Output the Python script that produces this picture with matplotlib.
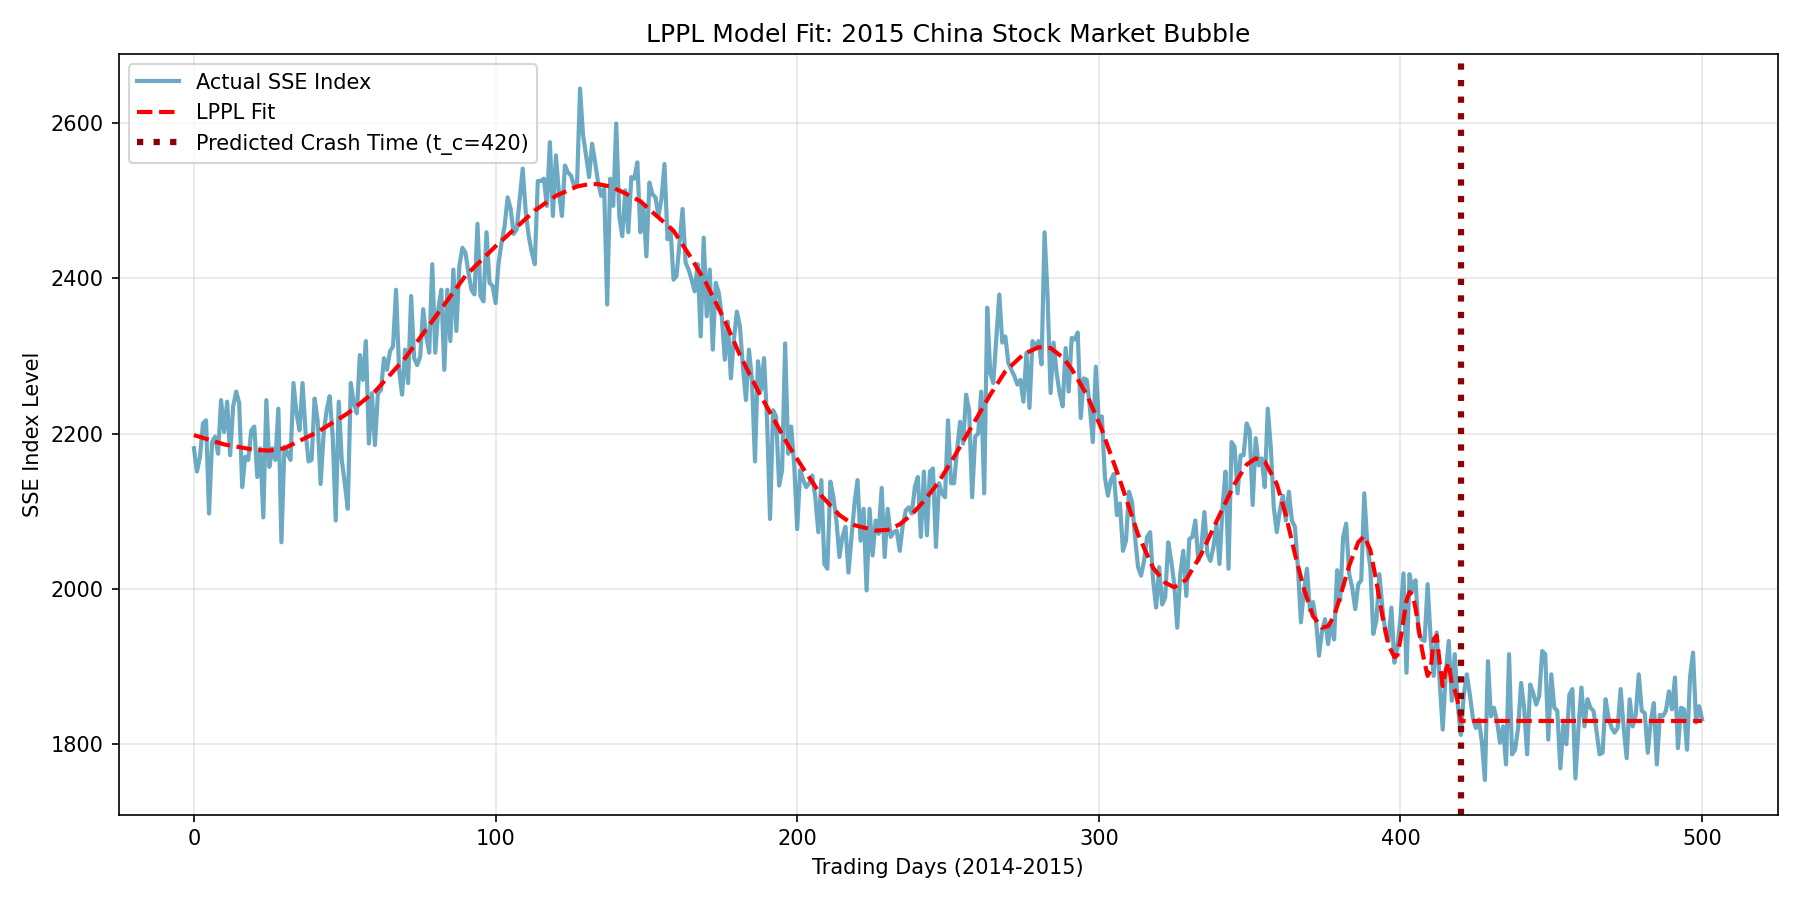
import numpy as np
import matplotlib
matplotlib.use("Agg")
import matplotlib.pyplot as plt

# Actual SSE index (daily, days 0..500)
sse_part1 = [2181,2151,2170,2213,2217,2097,2189,2196,2174,2243,
             2202,2241,2172,2235,2254,2239,2131,2170,2166,2204,
             2209,2144,2181,2092,2243,2157,2181,2166,2232,2060,
             2183,2174,2166,2265,2226,2204,2265,2202,2164,2166,
             2245,2217,2135,2200,2230,2248,2196,2088]
sse_part2 = [2241,2166,2136,2103,2265,2239,2226,2301,2269,2319,
             2187,2252,2185,2252,2256,2297,2282,2306,2312,2385,
             2282,2250,2308,2265,2377,2297,2288,2299,2360,2325,
             2304,2418,2304,2360,2385,2282,2385,2319,2411,2332,
             2416,2439,2433,2407,2385,2379,2470,2377,2370,2459]
sse_part3 = [2394,2390,2368,2420,2446,2467,2504,2489,2457,2463,
             2502,2541,2485,2454,2433,2418,2525,2525,2528,2493,
             2575,2480,2558,2510,2480,2545,2536,2532,2519,2519,
             2644,2584,2558,2530,2573,2549,2523,2506,2515,2366,
             2528,2493,2599,2480,2454,2513,2459,2530,2528,2549]
sse_part4 = [2459,2493,2428,2523,2508,2504,2480,2502,2547,2450,
             2463,2398,2403,2446,2489,2420,2411,2398,2383,2418,
             2325,2452,2351,2411,2308,2394,2381,2351,2295,2344,
             2271,2321,2357,2338,2286,2243,2308,2269,2164,2293,
             2256,2297,2217,2090,2230,2222,2133,2153,2316,2174]
sse_part5 = [2209,2160,2077,2153,2140,2131,2136,2146,2118,2073,
             2140,2032,2026,2138,2118,2088,2041,2067,2080,2021,
             2067,2110,2140,2062,2103,1998,2103,2043,2088,2071,
             2130,2041,2103,2067,2073,2075,2049,2082,2101,2105,
             2097,2131,2144,2067,2151,2069,2151,2155,2054,2136]
sse_part6 = [2123,2118,2217,2136,2136,2179,2215,2187,2250,2230,
             2118,2196,2200,2254,2123,2362,2278,2265,2321,2379,
             2317,2325,2291,2282,2274,2263,2269,2241,2304,2233,
             2319,2312,2319,2289,2459,2377,2252,2317,2278,2252,
             2235,2310,2254,2323,2321,2330,2220,2271,2269]
sse_part7 = [2235,2189,2286,2215,2222,2144,2120,2140,2148,2095,
             2110,2049,2062,2125,2112,2067,2028,2017,2036,2067,
             2073,2011,1976,2028,1980,1989,2060,2036,2006,1950,
             2019,2049,1991,2064,2067,2088,2036,2054,2099,2045,
             2036,2054,2084,2032,2105,2151,2026,2189,2183,2123,
             2172,2172]
sse_part8 = [2213,2204,2108,2194,2159,2168,2131,2232,2183,2105,
             2073,2101,2120,2088,2125,2088,2080,2028,1957,1998,
             2026,1972,1983,1959,1914,1946,1961,1929,1955,1935,
             2024,1985,2067,2084,2019,2002,1974,2006,2011,2123,
             2058,2028,1942,1959,2019,1976,1944,1933,1976]
sse_part9 = [1905,1925,1963,2020,1892,2019,1998,2011,1944,1935,
             1933,2006,1937,1888,1944,1881,1819,1890,1933,1856,
             1916,1851,1812,1864,1890,1864,1834,1821,1832,1802,
             1754,1907,1836,1847,1830,1802,1823,1774,1916,1787,
             1793,1821,1879,1847,1787,1877,1866,1851,1862,1920]
sse_part10 = [1916,1806,1890,1847,1843,1769,1825,1800,1864,1871,
              1756,1821,1873,1823,1858,1847,1843,1817,1787,1789,
              1858,1834,1821,1815,1821,1871,1821,1782,1858,1823,
              1838,1890,1843,1840,1789,1830,1853,1774,1838,1836,
              1843,1868,1845,1886,1795,1847,1845,1793,1886,1918,
              1828,1849,1832]

sse_values = (sse_part1 + sse_part2 + sse_part3 + sse_part4 + sse_part5 +
              sse_part6 + sse_part7 + sse_part8 + sse_part9 + sse_part10)
days = np.arange(len(sse_values))

# LPPL fit curve, read at selected days
fit_days = [0, 10, 20, 25, 30, 41, 51, 60, 70, 80, 90, 100, 113, 120, 127, 131,
            134, 138, 142, 148, 152, 159, 165, 170, 176, 181, 187, 192, 197, 202,
            208, 214, 219, 226, 230, 234, 238, 242, 247, 252, 258, 264, 269, 275,
            280, 284, 288, 291, 296, 301, 307, 313, 318, 322, 325, 329, 334, 340,
            345, 349, 352, 355, 359, 362, 365, 368, 371, 374, 376, 378, 380, 383,
            386, 388, 390, 392, 394, 396, 398, 399, 400, 401, 402, 403, 404, 405,
            406, 407, 408, 409, 410, 411, 412, 413, 414, 415, 416, 417, 418, 419,
            420, 500]
fit_values = [2198, 2186, 2179, 2178, 2181, 2202, 2226, 2254, 2297, 2350, 2403, 2441,
              2487, 2506, 2518, 2521, 2521, 2518, 2511, 2499, 2485, 2461, 2425, 2392,
              2345, 2301, 2255, 2220, 2185, 2155, 2120, 2095, 2082, 2075, 2076, 2083,
              2096, 2113, 2138, 2170, 2210, 2250, 2280, 2302, 2311, 2310, 2298, 2283,
              2250, 2205, 2140, 2070, 2027, 2008, 2002, 2012, 2045, 2095, 2135, 2160,
              2168, 2164, 2135, 2095, 2045, 2000, 1965, 1950, 1952, 1965, 1990, 2030,
              2060, 2068, 2050, 2010, 1965, 1928, 1912, 1915, 1935, 1960, 1985, 1996,
              1993, 1975, 1950, 1925, 1905, 1888, 1895, 1935, 1940, 1905, 1875, 1895,
              1905, 1878, 1870, 1855, 1830, 1830]

crash_time = 420

fig, ax = plt.subplots(figsize=(12, 6), dpi=150)
ax.plot(days, sse_values, color='#2E86AB', alpha=0.7, linewidth=2,
        label='Actual SSE Index')
ax.plot(fit_days, fit_values, 'r--', linewidth=2, label='LPPL Fit')
ax.axvline(crash_time, color='darkred', linestyle=':', linewidth=3,
           label=f'Predicted Crash Time (t_c={crash_time})')
ax.set_title('LPPL Model Fit: 2015 China Stock Market Bubble')
ax.set_xlabel('Trading Days (2014-2015)')
ax.set_ylabel('SSE Index Level')
ax.legend(loc='upper left')
ax.grid(True, alpha=0.3)
fig.tight_layout()
fig.savefig('out.png')
